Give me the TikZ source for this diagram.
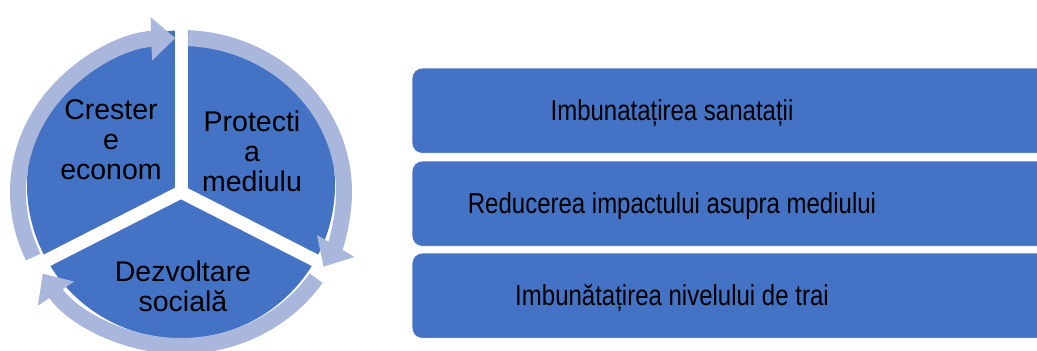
\documentclass[tikz,border=0pt]{standalone}
\usepackage{fontspec}
\setmainfont{Liberation Sans}
\usetikzlibrary{arrows.meta}
\definecolor{segblue}{RGB}{68,114,196}
\definecolor{ringblue}{RGB}{170,183,221}

\begin{document}
\begin{tikzpicture}[x=1pt,y=1pt,
  ring/.style={draw=ringblue,line width=16pt,-{Triangle[length=24pt,width=42pt]}},
  segtext/.style={align=center,inner sep=0pt,font=\fontsize{28.5}{30}\selectfont},
  bar/.style={fill=segblue,draw=white,rounded corners=10pt,inner sep=0pt,
    minimum width=648pt,minimum height=85pt,anchor=north west},
  bartext/.style={anchor=base,inner sep=0pt,font=\fontsize{24}{28}\selectfont}]
  \useasboundingbox (0,0) rectangle (1037,351);
  \coordinate (pie) at (181,166.5);
  \coordinate (hub) at (181,159);
  \fill[segblue] (pie) circle [radius=154];
  \foreach \a in {90,207,333}
    \draw[white,line width=13pt] (hub) -- ([shift={(\a:185pt)}]hub);
  \fill[white] (hub) circle [radius=6.5];
  \draw[ring] ([shift={(205:163pt and 154pt)}]hub)
    arc [start angle=205, end angle=92, x radius=163pt, y radius=154pt];
  \draw[ring] ([shift={(87.5:163pt and 154pt)}]hub)
    arc [start angle=87.5, end angle=-29, x radius=163pt, y radius=154pt];
  \draw[ring] ([shift={(-34:163pt and 154pt)}]hub)
    arc [start angle=-34, end angle=-148, x radius=163pt, y radius=154pt];
  \node[segtext] (growth) at (111,211) {Crester\\e\\econom};
  \node[segtext] (environment) at (252,200) {Protecti\\a\\mediulu};
  \node[segtext] (social) at (183,65) {Dezvoltare\\socială};
  \node[bar] (health) at (412,283) {};
  \node[bar] (impact) at (412,190) {};
  \node[bar] (living) at (412,98) {};
  \node[bartext] (healthtext) at ([xshift=260pt,yshift=-10.3pt]health.west)
    {\scalebox{1}[1.2]{Imbunatațirea sanatații}};
  \node[bartext] (impacttext) at ([xshift=260pt,yshift=-10.3pt]impact.west)
    {\scalebox{1}[1.2]{Reducerea impactului asupra mediului}};
  \node[bartext] (livingtext) at ([xshift=260pt,yshift=-10.3pt]living.west)
    {\scalebox{1}[1.2]{Imbunătațirea nivelului de trai}};
\end{tikzpicture}
\end{document}
